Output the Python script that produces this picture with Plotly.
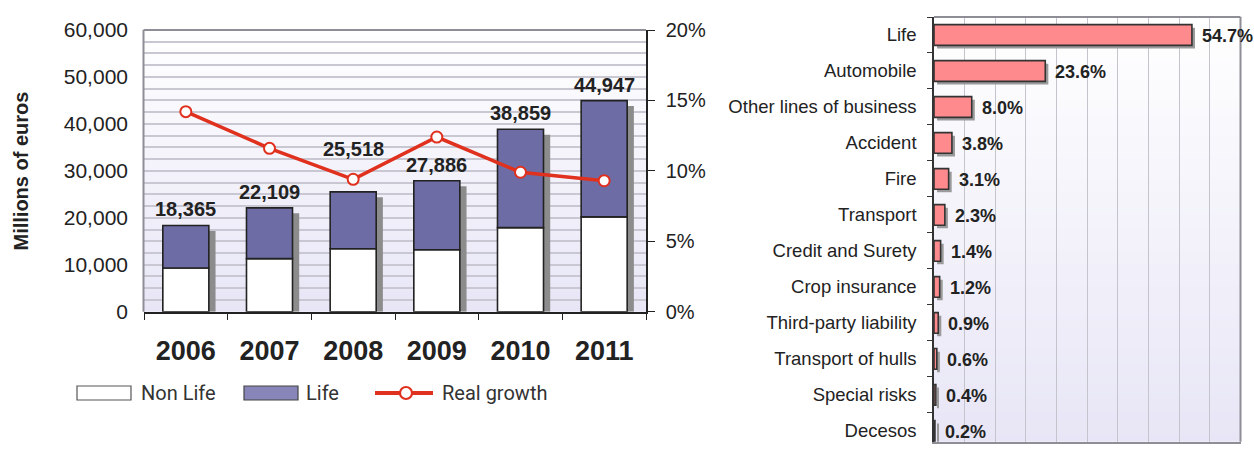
import plotly.graph_objects as go

# ---- Premium volume (left panel) ----
years = ["2006", "2007", "2008", "2009", "2010", "2011"]
totals = [18365, 22109, 25518, 27886, 38859, 44947]
non_life = [9300, 11300, 13400, 13200, 17900, 20200]
life = [t - n for t, n in zip(totals, non_life)]
real_growth = [14.2, 11.6, 9.4, 12.4, 9.9, 9.3]

# ---- Breakdown by line of business (right panel) ----
lines_of_business = [
    "Life", "Automobile", "Other lines of business", "Accident", "Fire",
    "Transport", "Credit and Surety", "Crop insurance", "Third-party liability",
    "Transport of hulls", "Special risks", "Decesos",
]
shares = [54.7, 23.6, 8.0, 3.8, 3.1, 2.3, 1.4, 1.2, 0.9, 0.6, 0.4, 0.2]

W, H = 1254, 472
SANS = "Liberation Sans, Arial, sans-serif"
NARROW = "Liberation Sans Narrow, Arial Narrow, Liberation Sans, Arial, sans-serif"
INK = "#222222"
LIFE_BLUE = "#6E6CA4"
PINK = "#FF8A8E"
RED = "#E0301E"
GRID = "#C8C7D2"

year_pos = list(range(len(years)))
# extra lift (px) for total labels that would sit on the growth line
label_lift = {"2008": 27}


def px(x):
    return x / W


def py(y):
    return (H - y) / H


# plot areas in pixels
L_X0, L_X1, L_Y0, L_Y1 = 144, 646, 30, 311.7
R_X0, R_X1, R_Y0, R_Y1 = 934, 1240.5, 17, 441.7

fig = go.Figure()

# ---- left panel bars ----
BW = 0.55
fig.add_trace(go.Bar(
    x=year_pos, y=[t - 1150 for t in totals], base=0, width=BW, offset=-BW / 2 + 0.08,
    marker=dict(color="#8C8C8C", line=dict(width=0)),
    showlegend=False, hoverinfo="skip", xaxis="x", yaxis="y",
))
fig.add_trace(go.Bar(
    x=year_pos, y=non_life, base=0, width=BW, offset=-BW / 2, name="Non Life",
    marker=dict(color="white", line=dict(color=INK, width=1.6)),
    showlegend=False, xaxis="x", yaxis="y",
))
fig.add_trace(go.Bar(
    x=year_pos, y=life, base=non_life, width=BW, offset=-BW / 2, name="Life",
    marker=dict(color=LIFE_BLUE, line=dict(color=INK, width=1.6)),
    showlegend=False, xaxis="x", yaxis="y",
))
fig.add_trace(go.Scatter(
    x=year_pos, y=real_growth, mode="lines+markers", name="Real growth",
    line=dict(color=RED, width=3.5),
    marker=dict(size=11, color="white", line=dict(color=RED, width=2)),
    showlegend=False, xaxis="x", yaxis="y2", cliponaxis=False,
))

# ---- right panel bars ----
HBW = 0.575
fig.add_trace(go.Bar(
    y=lines_of_business, x=shares, base=0.65, orientation="h", width=HBW,
    offset=-HBW / 2 + 0.085,
    marker=dict(color="#9A9A9A", line=dict(width=0)),
    showlegend=False, hoverinfo="skip", xaxis="x2", yaxis="y3",
))
fig.add_trace(go.Bar(
    y=lines_of_business, x=shares, base=0, orientation="h", width=HBW,
    offset=-HBW / 2,
    marker=dict(color=PINK, line=dict(color="#333333", width=1.6)),
    showlegend=False, xaxis="x2", yaxis="y3",
))

annotations = []
for xp, yr, t in zip(year_pos, years, totals):
    annotations.append(dict(
        x=xp, y=t, xref="x", yref="y", text=f"{t:,}", showarrow=False,
        yanchor="bottom", yshift=3 + label_lift.get(yr, 0),
        font=dict(family=SANS, size=20, color=INK, weight="bold"),
    ))
for lob, s in zip(lines_of_business, shares):
    annotations.append(dict(
        x=s, y=lob, xref="x2", yref="y3", text=f"{s:.1f}%", showarrow=False,
        xanchor="left", xshift=8, yshift=-1,
        font=dict(family=SANS, size=18, color=INK, weight="bold"),
    ))
annotations.append(dict(
    x=px(20.5), y=py(171), xref="paper", yref="paper", text="Millions of euros",
    textangle=-90, showarrow=False, xanchor="center", yanchor="middle",
    font=dict(family=SANS, size=20, color=INK, weight="bold"),
))

# ---- hand-drawn legend for the left panel ----
LEG_Y = 393
legend_font = dict(family="Roboto, " + SANS, size=20, color="#333333")
for label, lx in (("Non Life", 139), ("Life", 304), ("Real growth", 440)):
    annotations.append(dict(
        x=px(lx), y=py(LEG_Y), xref="paper", yref="paper", text=label,
        showarrow=False, xanchor="left", yanchor="middle", font=legend_font,
    ))

shapes = []


def gradient(xref, yref, n=60):
    top = (255, 255, 255)
    bot = (232, 230, 246)
    for i in range(n):
        f = (i + 0.5) / n
        c = tuple(round(top[k] + (bot[k] - top[k]) * f) for k in range(3))
        shapes.append(dict(
            type="rect", xref=xref, yref=yref, x0=0, x1=1,
            y0=1 - (i + 1) / n, y1=1 - i / n + 0.002, layer="below",
            fillcolor=f"rgb{c}", line=dict(width=0),
        ))


gradient("x domain", "y domain")
gradient("x2 domain", "y3 domain")

FRAME = "#8E8E96"
# left panel frame: top and left edges
shapes += [
    dict(type="line", xref="paper", yref="paper", x0=px(L_X0 - 0.5), x1=px(L_X1),
         y0=py(L_Y0), y1=py(L_Y0), line=dict(color=FRAME, width=2)),
    dict(type="line", xref="paper", yref="paper", x0=px(L_X0 - 0.5), x1=px(L_X0 - 0.5),
         y0=py(L_Y0), y1=py(L_Y1), line=dict(color=FRAME, width=2)),
    # right panel frame: top and right edges
    dict(type="line", xref="paper", yref="paper", x0=px(R_X0), x1=px(R_X1),
         y0=py(R_Y0), y1=py(R_Y0), line=dict(color=FRAME, width=2)),
    dict(type="line", xref="paper", yref="paper", x0=px(R_X1), x1=px(R_X1),
         y0=py(R_Y0), y1=py(R_Y1), line=dict(color=FRAME, width=2)),
]

# legend symbols
shapes += [
    dict(type="rect", xref="paper", yref="paper", x0=px(77), x1=px(131),
         y0=py(400), y1=py(386), fillcolor="white", line=dict(color="#555555", width=1.2)),
    dict(type="rect", xref="paper", yref="paper", x0=px(244), x1=px(298),
         y0=py(400), y1=py(386), fillcolor="#8886B8", line=dict(color="#444444", width=1.2)),
    dict(type="line", xref="paper", yref="paper", x0=px(375), x1=px(433),
         y0=py(LEG_Y), y1=py(LEG_Y), line=dict(color=RED, width=4)),
    dict(type="circle", xref="paper", yref="paper", x0=px(400), x1=px(412),
         y0=py(LEG_Y + 6), y1=py(LEG_Y - 6), fillcolor="white",
         line=dict(color=RED, width=2.2)),
]

fig.update_layout(
    width=W, height=H,
    margin=dict(l=0, r=0, t=0, b=0, autoexpand=False),
    paper_bgcolor="white", plot_bgcolor="rgba(0,0,0,0)",
    barmode="overlay", showlegend=False,
    font=dict(family=SANS, color=INK),
    xaxis=dict(
        domain=[px(L_X0), px(L_X1)], anchor="y", range=[-0.5, 5.5],
        tickmode="array", tickvals=year_pos, ticktext=years, ticks="",
        minor=dict(tick0=-0.5, dtick=1, ticks="outside", ticklen=7,
                   tickcolor=INK, tickwidth=1.2, showgrid=False),
        showline=True, linecolor=INK, linewidth=1.5, automargin=False,
        tickfont=dict(family=NARROW, size=27, color=INK, weight="bold"),
        tickangle=0, ticklabelstandoff=14, showgrid=False, zeroline=False,
    ),
    yaxis=dict(
        domain=[py(L_Y1), py(L_Y0)], anchor="x", range=[0, 60000], dtick=10000,
        tickformat=",", showgrid=True, gridcolor=GRID, gridwidth=1.5,
        minor=dict(dtick=2500, showgrid=True, gridcolor=GRID, gridwidth=1.5),
        zeroline=False, showline=False, ticks="", automargin=False,
        tickfont=dict(family=SANS, size=21, color=INK), ticklabelstandoff=15,
    ),
    yaxis2=dict(
        overlaying="y", side="right", anchor="x", range=[0, 20], dtick=5,
        ticksuffix="%", showgrid=False, zeroline=False, automargin=False,
        showline=True, linecolor=INK, linewidth=1.5,
        ticks="outside", ticklen=7, tickcolor=INK, tickwidth=1.2,
        tickfont=dict(family=SANS, size=20, color=INK), ticklabelstandoff=7,
    ),
    xaxis2=dict(
        domain=[px(R_X0), px(R_X1)], anchor="y3", range=[0, 65], dtick=6.5,
        showgrid=True, gridcolor="#C4C4CC", gridwidth=1.2, automargin=False,
        showticklabels=False, ticks="", zeroline=False,
        showline=True, linecolor=FRAME, linewidth=2,
    ),
    yaxis3=dict(
        domain=[py(R_Y1), py(R_Y0)], anchor="x2", type="category",
        range=[11.3, -0.5], showgrid=False, automargin=False,
        showline=True, linecolor="#333333", linewidth=1.5,
        ticks="outside", tickson="boundaries", ticklen=5, tickcolor="#333333",
        tickfont=dict(family=SANS, size=18.5, color=INK), ticklabelstandoff=12,
    ),
    annotations=annotations,
    shapes=shapes,
)

fig.write_html("out.html")
